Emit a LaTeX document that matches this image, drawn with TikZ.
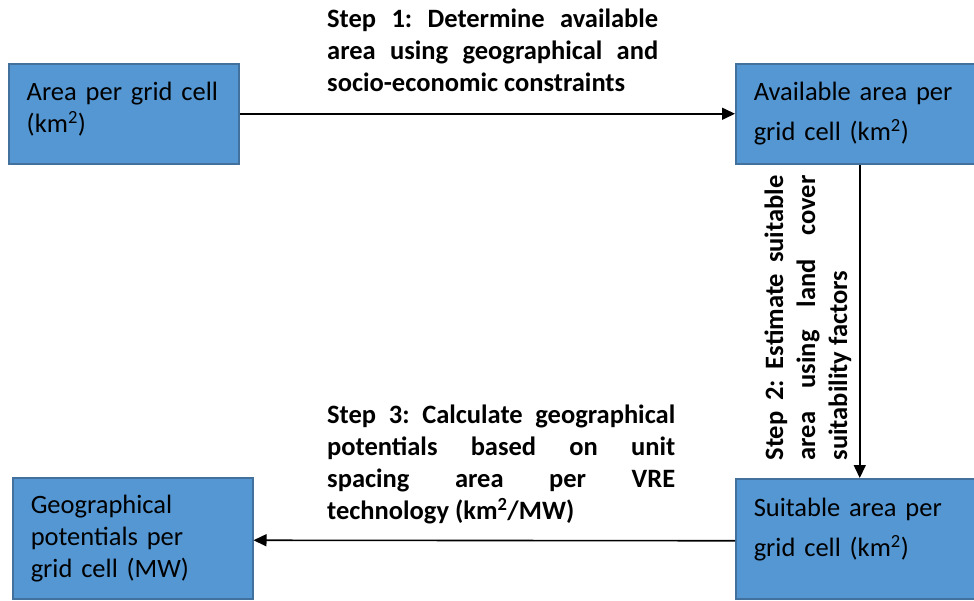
\documentclass[tikz,border=0pt]{standalone}
\usepackage{fontspec}
\setmainfont{Carlito}
\usepackage{xcolor}
\usetikzlibrary{arrows.meta,positioning,calc}
\definecolor{boxblue}{RGB}{84,151,211}
\definecolor{boxedge}{RGB}{65,113,156}
\frenchspacing

\begin{document}
\begin{tikzpicture}[x=1pt,y=-1pt,
    font=\fontsize{26.5}{32}\selectfont,
    cell/.style={draw=boxedge, line width=1.5pt, fill=boxblue, anchor=north west,
        align=left, inner xsep=18pt, inner ysep=0pt},
    steptext/.style={font=\fontsize{26.5}{32}\selectfont\bfseries, align=justify, inner sep=0pt},
    flow/.style={-{Triangle[length=13pt,width=12pt]}, line width=1.6pt}]
\useasboundingbox (0,0) rectangle (974,600);

% the four boxes
\node[cell, minimum width=230, minimum height=100, text width=194, text depth=45pt] (area) at (8,63)
    {Area per grid cell\\(km\textsuperscript{2})};
\node[cell, minimum width=242, minimum height=100, text width=206] (avail) at (735,63)
    {Available area per\\[8pt]grid cell (km\textsuperscript{2})};
\node[cell, minimum width=242, minimum height=120, text width=206, text depth=63pt] (suit) at (735,478)
    {Suitable area per\\[8pt]grid cell (km\textsuperscript{2})};
\node[cell, minimum width=240, minimum height=121, text width=204] (geo) at (12,477)
    {Geographical\\potentials per\\grid cell (MW)};

% step labels
\node[steptext, text width=331, anchor=north west] (step1) at (327,9)
    {Step 1: Determine available\linebreak area using geographical and\linebreak socio-economic constraints};
\node[steptext, text width=285, rotate=90] (step2) at (808,318)
    {Step 2: Estimate suitable\linebreak area using land cover\linebreak suitability factors};
\node[steptext, text width=348, anchor=north west] (step3) at (327,405)
    {Step 3: Calculate geographical\linebreak potentials based on unit\linebreak spacing area per VRE\linebreak technology (km\textsuperscript{2}/MW)};

% arrows
\draw[flow] (area.east) -- (avail.west);
\draw[flow] ([xshift=3pt]avail.south) -- ([xshift=3pt]suit.north);
\draw[flow] ([yshift=-2pt]suit.west) -- ([yshift=-2pt]geo.east);
\end{tikzpicture}
\end{document}
